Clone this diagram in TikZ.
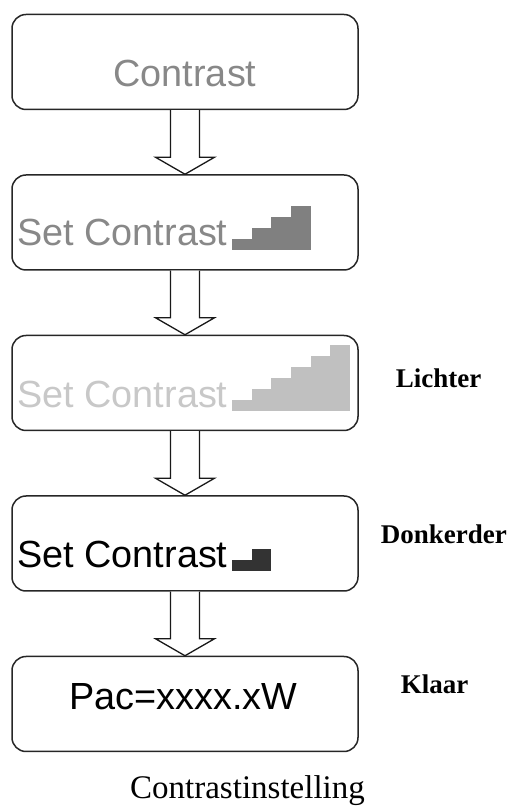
\documentclass[tikz,border=0pt]{standalone}
\usepackage{fontspec}
\setmainfont{Liberation Serif}
\newfontfamily\lcdfont{Liberation Sans}
\usetikzlibrary{positioning,calc}
\definecolor{MidGrey}{HTML}{888888}
\definecolor{BarGrey}{HTML}{808080}
\definecolor{PaleText}{HTML}{C8C8C8}
\definecolor{PaleBar}{HTML}{C0C0C0}
\definecolor{DarkBar}{HTML}{333333}
\tikzset{
  screen/.style={draw=black!85, line width=1.5pt, rounded corners=14pt, minimum width=346pt, minimum height=95pt, inner sep=0pt},
  lcd/.style={font=\lcdfont\fontsize{37.8}{40}\selectfont, inner sep=0pt, anchor=base west},
  hint/.style={font=\fontsize{27}{30}\selectfont\bfseries, inner sep=0pt, anchor=base west},
  caption/.style={font=\fontsize{33}{36}\selectfont, inner sep=0pt, anchor=base},
  blockarrow/.style={draw=black!90, line width=1.3pt, fill=white, line join=miter}
}
% contrast bar: #1 base corner, #2 number of steps, #3 colour
\newcommand{\stairs}[3]{%
  \foreach \k in {1,...,#2}
    \fill[#3] ($(#1)+({(\k-1)*19.6},0)$) rectangle ++(19.6,{11*\k});}

\begin{document}
\begin{tikzpicture}[x=1pt, y=1pt, node distance=64pt]
\useasboundingbox (0,0) rectangle (513,807);
\node[screen] (c1) at (185,745) {};
\node[screen, below=of c1] (c2) {};
\node[screen, below=of c2] (c3) {};
\node[screen, below=of c3] (c4) {};
\node[screen, below=of c4] (c5) {};
\foreach \a/\b in {c1/c2,c2/c3,c3/c4,c4/c5}
  \draw[blockarrow] ($(\a.south)+(-14.5,0)$) -- ($(\b.north)+(-14.5,17)$) -- ++(-15,0) -- (\b.north)
    -- ++(29.5,17) -- ++(-15,0) -- ($(\a.south)+(14.5,0)$);
% screen texts
\node[lcd, anchor=base, text=MidGrey] (t1) at ($(c1.south)+(0,24)$) {Contrast};
\node[lcd, text=MidGrey] (t2) at ($(c2.south west)+(6,25)$) {Set Contrast};
\node[lcd, text=PaleText] (t3) at ($(c3.south west)+(6,24)$) {Set Contrast};
\node[lcd] (t4) at ($(c4.south west)+(6,24)$) {Set Contrast};
\node[lcd, anchor=base] (t5) at ($(c5.south)+(-1.5,43)$) {Pac=xxxx.xW};
% bars
\coordinate (s2) at ($(c2.south west)+(221,21)$);
\coordinate (s3) at ($(c3.south west)+(221,20)$);
\coordinate (s4) at ($(c4.south west)+(221,21)$);
\stairs{s2}{4}{BarGrey}
\stairs{s3}{6}{PaleBar}
\stairs{s4}{2}{DarkBar}
% key labels
\node[hint] (lichter) at ($(c3.east)+(37,-5)$) {Lichter};
\node[hint] (donker) at ($(c4.east)+(22,0)$) {Donkerder};
\node[hint] (klaar) at ($(c5.east)+(42,10)$) {Klaar};
\node[caption] (cap) at (247.5,9) {Contrastinstelling};
\end{tikzpicture}
\end{document}
